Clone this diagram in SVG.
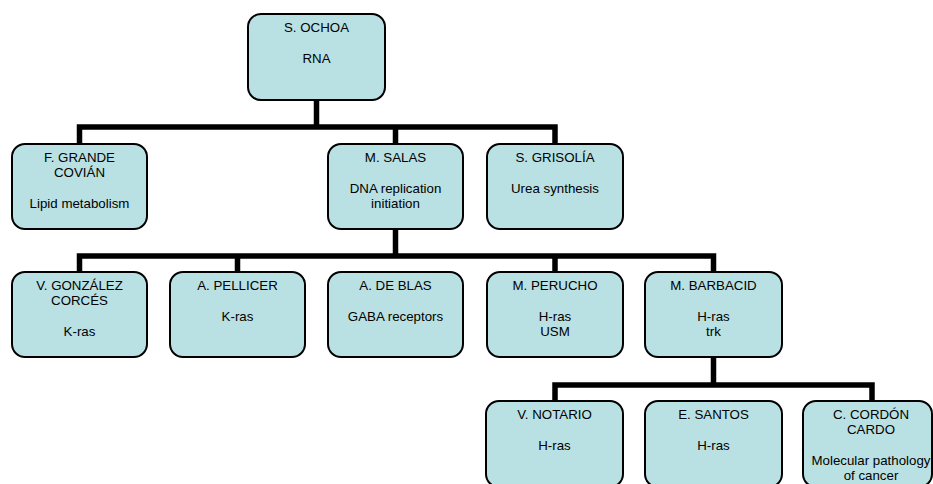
<svg xmlns="http://www.w3.org/2000/svg" width="933" height="484" viewBox="0 0 933 484">
<style>
.box{fill:#b9e0e3;stroke:#000;stroke-width:2}
.t{font-family:"Liberation Sans",Arial,sans-serif;font-size:13.3px;fill:#000;text-anchor:middle}
.c{fill:none;stroke:#000;stroke-width:5.5;stroke-linejoin:miter;stroke-linecap:butt}
</style>
<rect width="933" height="484" fill="#fff"/>
<g id="connectors">
<path class="c" d="M316.5 100V127M79.5 144V127H555V144M395.5 127V144"/>
<path class="c" d="M395.5 229V256M79.5 272V256H713.5V272M237.5 256V272M555 256V272"/>
<path class="c" d="M713.5 357V385M555 401V385H872V401"/>
</g>
<g id="ochoa"><rect class="box" x="248" y="14" width="137" height="86" rx="13"/>
<text class="t" x="316.5" y="32">S. OCHOA</text><text class="t" x="316.5" y="63">RNA</text></g>
<g id="grande"><rect class="box" x="12" y="144" width="135" height="85" rx="13"/>
<text class="t" x="79.5" y="162">F. GRANDE</text><text class="t" x="79.5" y="177.4">COVIÁN</text><text class="t" x="79.5" y="208">Lipid metabolism</text></g>
<g id="salas"><rect class="box" x="328" y="144" width="135" height="85" rx="13"/>
<text class="t" x="395.5" y="162">M. SALAS</text><text class="t" x="395.5" y="192.8">DNA replication</text><text class="t" x="395.5" y="208.2">initiation</text></g>
<g id="grisolia"><rect class="box" x="487" y="144" width="136" height="85" rx="13"/>
<text class="t" x="555" y="162">S. GRISOLÍA</text><text class="t" x="555" y="192.8">Urea synthesis</text></g>
<g id="gonzalez"><rect class="box" x="12" y="272" width="135" height="85" rx="13"/>
<text class="t" x="79.5" y="290">V. GONZÁLEZ</text><text class="t" x="79.5" y="305.4">CORCÉS</text><text class="t" x="79.5" y="336">K-ras</text></g>
<g id="pellicer"><rect class="box" x="170" y="272" width="135" height="85" rx="13"/>
<text class="t" x="237.5" y="290">A. PELLICER</text><text class="t" x="237.5" y="320.8">K-ras</text></g>
<g id="deblas"><rect class="box" x="328" y="272" width="135" height="85" rx="13"/>
<text class="t" x="395.5" y="290">A. DE BLAS</text><text class="t" x="395.5" y="320.8">GABA receptors</text></g>
<g id="perucho"><rect class="box" x="487" y="272" width="136" height="85" rx="13"/>
<text class="t" x="555" y="290">M. PERUCHO</text><text class="t" x="555" y="320.8">H-ras</text><text class="t" x="555" y="336.2">USM</text></g>
<g id="barbacid"><rect class="box" x="645" y="272" width="137" height="85" rx="13"/>
<text class="t" x="713.5" y="290">M. BARBACID</text><text class="t" x="713.5" y="320.8">H-ras</text><text class="t" x="713.5" y="336.2">trk</text></g>
<g id="notario"><rect class="box" x="486" y="401" width="137" height="86" rx="13"/>
<text class="t" x="554.5" y="419">V. NOTARIO</text><text class="t" x="554.5" y="449.8">H-ras</text></g>
<g id="santos"><rect class="box" x="645" y="401" width="137" height="86" rx="13"/>
<text class="t" x="713.5" y="419">E. SANTOS</text><text class="t" x="713.5" y="449.8">H-ras</text></g>
<g id="cordon"><rect class="box" x="803" y="401" width="129" height="86" rx="13"/>
<text class="t" x="871" y="419">C. CORDÓN</text><text class="t" x="871" y="434.4">CARDO</text><text class="t" x="871" y="465">Molecular pathology</text><text class="t" x="871" y="480.4">of cancer</text></g>
</svg>
